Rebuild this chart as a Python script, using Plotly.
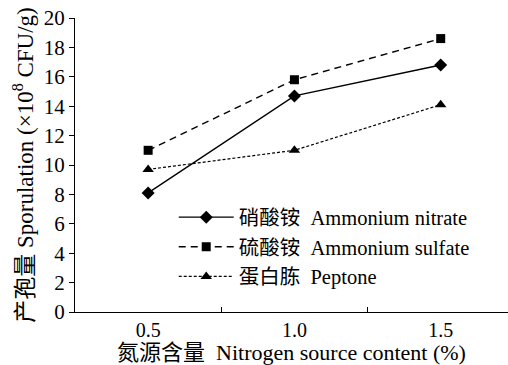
import plotly.graph_objects as go

# Nitrogen source content (%)
contents = ["0.5", "1.0", "1.5"]

# Sporulation (x10^8 CFU/g)
ammonium_nitrate = [8.1, 14.7, 16.8]
ammonium_sulfate = [11.0, 15.8, 18.6]
peptone = [9.7, 11.0, 14.1]

y_ticks = list(range(0, 21, 2))

fontfam = "Liberation Serif, Noto Sans CJK SC, serif"

fig = go.Figure()
fig.add_trace(go.Scatter(
    x=contents, y=ammonium_nitrate, mode="lines+markers",
    name="硝酸铵  Ammonium nitrate",
    line=dict(color="black", width=1.4, dash="solid"),
    marker=dict(symbol="diamond", size=10, color="black"),
))
fig.add_trace(go.Scatter(
    x=contents, y=ammonium_sulfate, mode="lines+markers",
    name="硫酸铵  Ammonium sulfate",
    line=dict(color="black", width=1.4, dash="7px,5px"),
    marker=dict(symbol="square", size=9, color="black"),
))
fig.add_trace(go.Scatter(
    x=contents, y=peptone, mode="lines+markers",
    name="蛋白胨  Peptone",
    line=dict(color="black", width=1.2, dash="3px,2px"),
    marker=dict(symbol="triangle-up", size=10, color="black"),
))

fig.update_layout(
    width=508, height=365,
    margin=dict(l=75, r=0, t=18, b=53),
    paper_bgcolor="white", plot_bgcolor="white",
    font=dict(family=fontfam, size=21, color="black"),
    showlegend=True,
    legend=dict(
        x=0.228, y=0.39, xanchor="left", yanchor="top",
        bgcolor="rgba(0,0,0,0)", borderwidth=0,
        font=dict(family=fontfam, size=20.5),
        tracegroupgap=0, itemwidth=55,
    ),
    xaxis=dict(
        type="category", range=[-0.5, 2.46],
        showline=True, linecolor="black", linewidth=1.2,
        ticks="inside", tickson="boundaries", ticklen=5,
        tickcolor="black", showgrid=False, zeroline=False,
        tickfont=dict(family=fontfam, size=20),
        title=dict(
            text="氮源含量  Nitrogen source content (%)",
            font=dict(family=fontfam, size=22), standoff=1,
        ),
    ),
    yaxis=dict(
        range=[0, 20], tickvals=y_ticks,
        showline=True, linecolor="black", linewidth=1.2,
        ticks="outside", ticklen=5, tickcolor="black",
        showgrid=False, zeroline=False,
        tickfont=dict(family=fontfam, size=21),
        title=dict(
            text="产孢量 Sporulation (×10<sup>8</sup> CFU/g)",
            font=dict(family=fontfam, size=23), standoff=3,
        ),
    ),
)

fig.write_html("out.html")
